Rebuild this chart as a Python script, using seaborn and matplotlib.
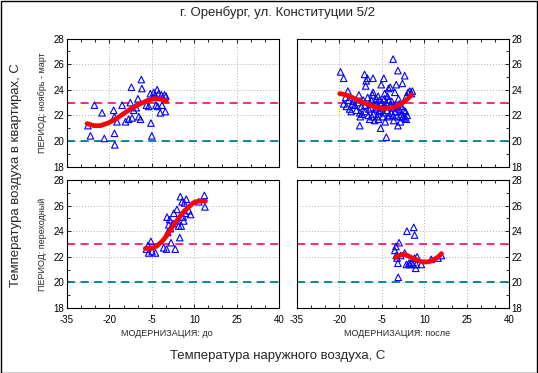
import numpy as np
import pandas as pd
import matplotlib
matplotlib.use("Agg")
import matplotlib.pyplot as plt
from matplotlib.ticker import MultipleLocator
import seaborn as sns

sns.set_style("white")
plt.rcParams['font.family'] = ['Liberation Sans', 'DejaVu Sans']
plt.rcParams['axes.unicode_minus'] = False

title = "г. Оренбург, ул. Конституции 5/2"
xlabel = "Температура наружного воздуха, С"
ylabel = "Температура воздуха в квартирах, С"
row_labels = ["ПЕРИОД: ноябрь - март", "ПЕРИОД: переходный"]
col_labels = ["МОДЕРНИЗАЦИЯ: до", "МОДЕРНИЗАЦИЯ: после"]
x_ticks = [-35, -20, -5, 10, 25, 40]
y_ticks = [18, 20, 22, 24, 26, 28]
comfort_level = 23
min_level = 20

# top-left: ноябрь-март, до
tl_x = [-27.6, -26.7, -25.3, -22.6, -21.8, -18.5, -18.2, -18.2, -18.1, -17.3, -15.5, -14.3,
        -13.2, -12.6, -12.2, -12.0, -11.4, -10.5, -9.9, -9.6, -9.0, -8.7, -8.5, -6.9, -6.1,
        -5.5, -5.3, -5.0, -4.6, -4.3, -3.5, -3.1, -2.6, -2.0, -1.6, -1.4, -0.5, -0.2, 0.0,
        -3.7, -2.9]
tl_y = [21.2, 20.4, 22.8, 22.2, 20.2, 22.4, 21.9, 20.6, 19.7, 21.5, 22.8, 21.5,
        21.7, 23.0, 24.2, 21.8, 22.4, 22.6, 23.3, 21.9, 21.7, 24.8, 24.1, 22.8, 22.7,
        23.7, 21.4, 20.4, 23.4, 23.8, 22.8, 24.0, 23.7, 22.2, 23.6, 22.8, 23.6, 22.3, 23.5,
        23.5, 22.7]
tl_fit_x = [-27.9, -25.5, -23.2, -20.5, -17.9, -15.2, -12.6, -9.6, -6.7, -4.5, -3.1, -1.5, 0.2]
tl_fit_y = [21.36, 21.2, 21.2, 21.4, 21.7, 22.1, 22.5, 22.85, 23.15, 23.3, 23.3, 23.25, 23.1]

# top-right: ноябрь-март, после
tr_x = [-19.6, -18.5, -17.0, -18.5, -17.5, -16.4, -15.8, -15.2, -15.4, -13.1, -12.8, -12.6,
        -12.8, -12.2, -11.6, -11.1, -10.7, -10.5, -10.1, -9.6, -9.3, -9.1, -8.7, -8.1, -8.1,
        -7.9, -7.5, -7.2, -6.9, -6.7, -6.3, -6.0, -5.8, -5.4, -5.2, -4.8, -4.6, -4.3, -4.0,
        -3.8, -3.4, -3.4, -3.2, -2.8, -2.6, -2.5, -2.0, -1.6, -1.3, -1.0, -0.8, -0.4, -0.1,
        0.1, 0.4, 0.7, 0.7, 1.1, 1.3, 1.6, 1.9, 2.3, 2.5, 3.1, 3.4, 3.7, 3.7, 4.3, 4.9, 5.5,
        5.8, -14.5, -14.0, -13.5, -11.0, -10.8, -10.0, -9.8, -8.9, -8.5, -8.3, -7.7, -7.0,
        -6.5, -6.2, -5.5, -5.0, -4.4, -4.1, -3.7, -3.0, -2.3, -2.0, -1.5, -1.0, -0.5, 0.3,
        0.9, 1.5, 2.0, 2.8, 3.0, 4.0, -12.0, -16.8, -17.8]
tr_y = [25.4, 24.9, 23.9, 22.9, 22.7, 22.5, 22.3, 23.1, 22.9, 23.6, 22.2, 21.9,
        21.2, 22.7, 23.2, 25.2, 24.3, 24.7, 24.9, 22.5, 21.7, 22.9, 23.2, 24.9, 23.8,
        22.1, 21.6, 22.5, 22.9, 21.9, 23.5, 22.3, 23.2, 21.0, 24.4, 22.6, 21.9, 24.9, 23.7,
        21.5, 23.0, 20.3, 22.4, 21.9, 24.1, 23.2, 24.2, 22.2, 22.6, 26.4, 21.6, 23.8, 22.3,
        24.4, 21.9, 25.5, 21.2, 22.5, 22.9, 21.5, 22.1, 24.5, 21.9, 25.1, 22.3, 21.7, 23.5,
        23.8, 23.9, 23.7, 23.9, 22.8, 22.4, 23.0, 22.8, 22.3, 23.4, 22.0, 22.6, 21.9, 23.6,
        22.9, 23.3, 22.6, 21.7, 22.4, 23.0, 22.2, 23.3, 22.7, 23.5, 22.0, 22.8, 23.1, 22.0,
        22.8, 22.6, 23.3, 21.9, 22.7, 22.4, 21.8, 22.0, 22.1, 23.2, 23.4]
tr_fit_x = [-19.9, -18.0, -16.4, -14.0, -11.6, -9.2, -6.9, -5.0, -3.4, -1.5, 0.1, 1.6, 3.1, 4.4, 5.5]
tr_fit_y = [23.7, 23.62, 23.5, 23.25, 23.0, 22.8, 22.62, 22.55, 22.55, 22.6, 22.7, 22.88, 23.1, 23.35, 23.6]

# bottom-left: переходный, до
bl_x = [-6.9, -6.3, -6.1, -5.3, -4.9, -3.7, -0.8, 0.2, 0.4, 0.6, 1.0, 1.3, 1.6, 1.8, 2.5,
        2.8, 3.3, 3.9, 4.2, 4.5, 4.9, 5.1, 5.4, 5.7, 6.1, 6.3, 6.5, 6.9, 7.2, 8.1, 8.7, 11.6,
        13.6, 13.8]
bl_y = [22.6, 22.9, 22.3, 23.2, 22.4, 22.3, 22.7, 22.6, 25.1, 23.9, 24.5, 24.9, 24.2, 23.1,
        24.6, 25.4, 22.6, 25.7, 24.8, 24.4, 23.5, 26.7, 24.4, 26.3, 25.1, 24.8, 26.2, 25.4,
        26.5, 25.6, 25.3, 26.3, 26.8, 25.9]
bl_fit_x = [-7.3, -5.8, -4.3, -2.9, -1.4, 0.1, 1.6, 3.4, 5.1, 6.6, 8.1, 9.3, 10.4, 12.0, 14.0]
bl_fit_y = [22.65, 22.65, 22.7, 22.9, 23.2, 23.6, 24.1, 24.7, 25.2, 25.6, 25.9, 26.15, 26.3, 26.35, 26.35]

# bottom-right: переходный, после
br_x = [-0.4, 0.0, 0.1, 0.4, 0.7, 1.1, 0.8, 1.7, 3.1, 3.7, 3.9, 4.6, 4.9, 5.5, 6.0, 6.3,
        6.6, 6.6, 7.0, 7.2, 7.5, 9.0, 12.5, 14.9, 16.1]
br_y = [22.5, 22.8, 22.1, 21.9, 21.5, 23.1, 20.4, 22.1, 22.3, 21.4, 24.0, 21.5, 21.4, 21.6,
        21.4, 24.3, 23.7, 21.9, 21.1, 21.4, 22.0, 21.4, 21.8, 21.9, 22.1]
br_fit_x = [-0.1, 1.2, 2.5, 4.0, 5.4, 7.0, 8.4, 9.8, 11.3, 12.8, 14.3, 15.3, 16.1]
br_fit_y = [21.95, 22.1, 22.2, 22.1, 21.95, 21.8, 21.65, 21.6, 21.6, 21.7, 21.9, 22.05, 22.25]

panels = [
    (0, 0, tl_x, tl_y, tl_fit_x, tl_fit_y),
    (0, 1, tr_x, tr_y, tr_fit_x, tr_fit_y),
    (1, 0, bl_x, bl_y, bl_fit_x, bl_fit_y),
    (1, 1, br_x, br_y, br_fit_x, br_fit_y),
]

W, H = 538, 373
fig = plt.figure(figsize=(W / 100, H / 100), dpi=100)
fig.patch.set_facecolor("white")

lefts = [67, 297]
tops = [38.6, 180]
aw, ah = 212, 128

for r, c, xs, ys, fx, fy in panels:
    ax = fig.add_axes([lefts[c] / W, 1 - (tops[r] + ah) / H, aw / W, ah / H])
    ax.set_xlim(-35, 40)
    ax.set_ylim(18, 28)
    ax.set_xticks(x_ticks)
    ax.set_yticks(y_ticks)
    ax.xaxis.set_minor_locator(MultipleLocator(5))
    ax.yaxis.set_minor_locator(MultipleLocator(1))
    for gx in x_ticks[1:-1]:
        ax.axvline(gx, color="#b0b0b0", lw=0.7, ls=(0, (1, 2)), zorder=0)
    for gy in y_ticks[1:-1]:
        ax.axhline(gy, color="#b0b0b0", lw=0.7, ls=(0, (1, 2)), zorder=0)
    ax.axhline(comfort_level, color="#ff1a75", lw=1.3, ls=(0, (4.5, 3)), zorder=1)
    ax.axhline(min_level, color="#008080", lw=1.3, ls=(0, (4.5, 3)), zorder=1)
    df = pd.DataFrame({"x": xs, "y": ys})
    sns.scatterplot(data=df, x="x", y="y", ax=ax, marker="^", s=22,
                    facecolor="none", edgecolor="#0000ff", linewidth=0.8, zorder=2)
    fdf = pd.DataFrame({"x": fx, "y": fy})
    sns.lineplot(data=fdf, x="x", y="y", ax=ax, color="#ff0000", lw=3.4,
                 sort=False, zorder=3)
    ax.set_xlabel("")
    ax.set_ylabel("")
    ax.tick_params(which="both", direction="in", top=True, bottom=True,
                   left=(c == 0), right=(c == 1), labelsize=7, pad=2, colors="black")
    ax.tick_params(which="major", length=3, width=0.6)
    ax.tick_params(which="minor", length=2, width=0.6)
    ax.tick_params(axis="x", pad=5)
    ax.tick_params(axis="y", labelleft=(c == 0), labelright=(c == 1))
    ax.tick_params(axis="x", labelbottom=(r == 1))
    for sp in ax.spines.values():
        sp.set_color("black")
        sp.set_linewidth(0.8)
    if r == 1:
        ax.text(0.47, -0.2, col_labels[c], transform=ax.transAxes, ha="center",
                va="center", fontsize=6.5)
    if c == 0:
        ax.text(-0.115, 0.5, row_labels[r], transform=ax.transAxes, ha="center",
                va="center", rotation=90, fontsize=6.5)

fig.text(278 / W, 1 - 13 / H, title, ha="center", va="center", fontsize=9.5)
fig.text(278 / W, 1 - 356 / H, xlabel, ha="center", va="center", fontsize=9.5)
fig.text(16 / W, 1 - 175 / H, ylabel, ha="center", va="center", rotation=90, fontsize=9.5)

border = plt.Rectangle((0.5 / W, 0.5 / H), 1 - 1.5 / W, 1 - 1.5 / H, transform=fig.transFigure,
                       fill=False, edgecolor="black", lw=1.0)
fig.patches.append(border)

fig.savefig("out.png", dpi=100)
